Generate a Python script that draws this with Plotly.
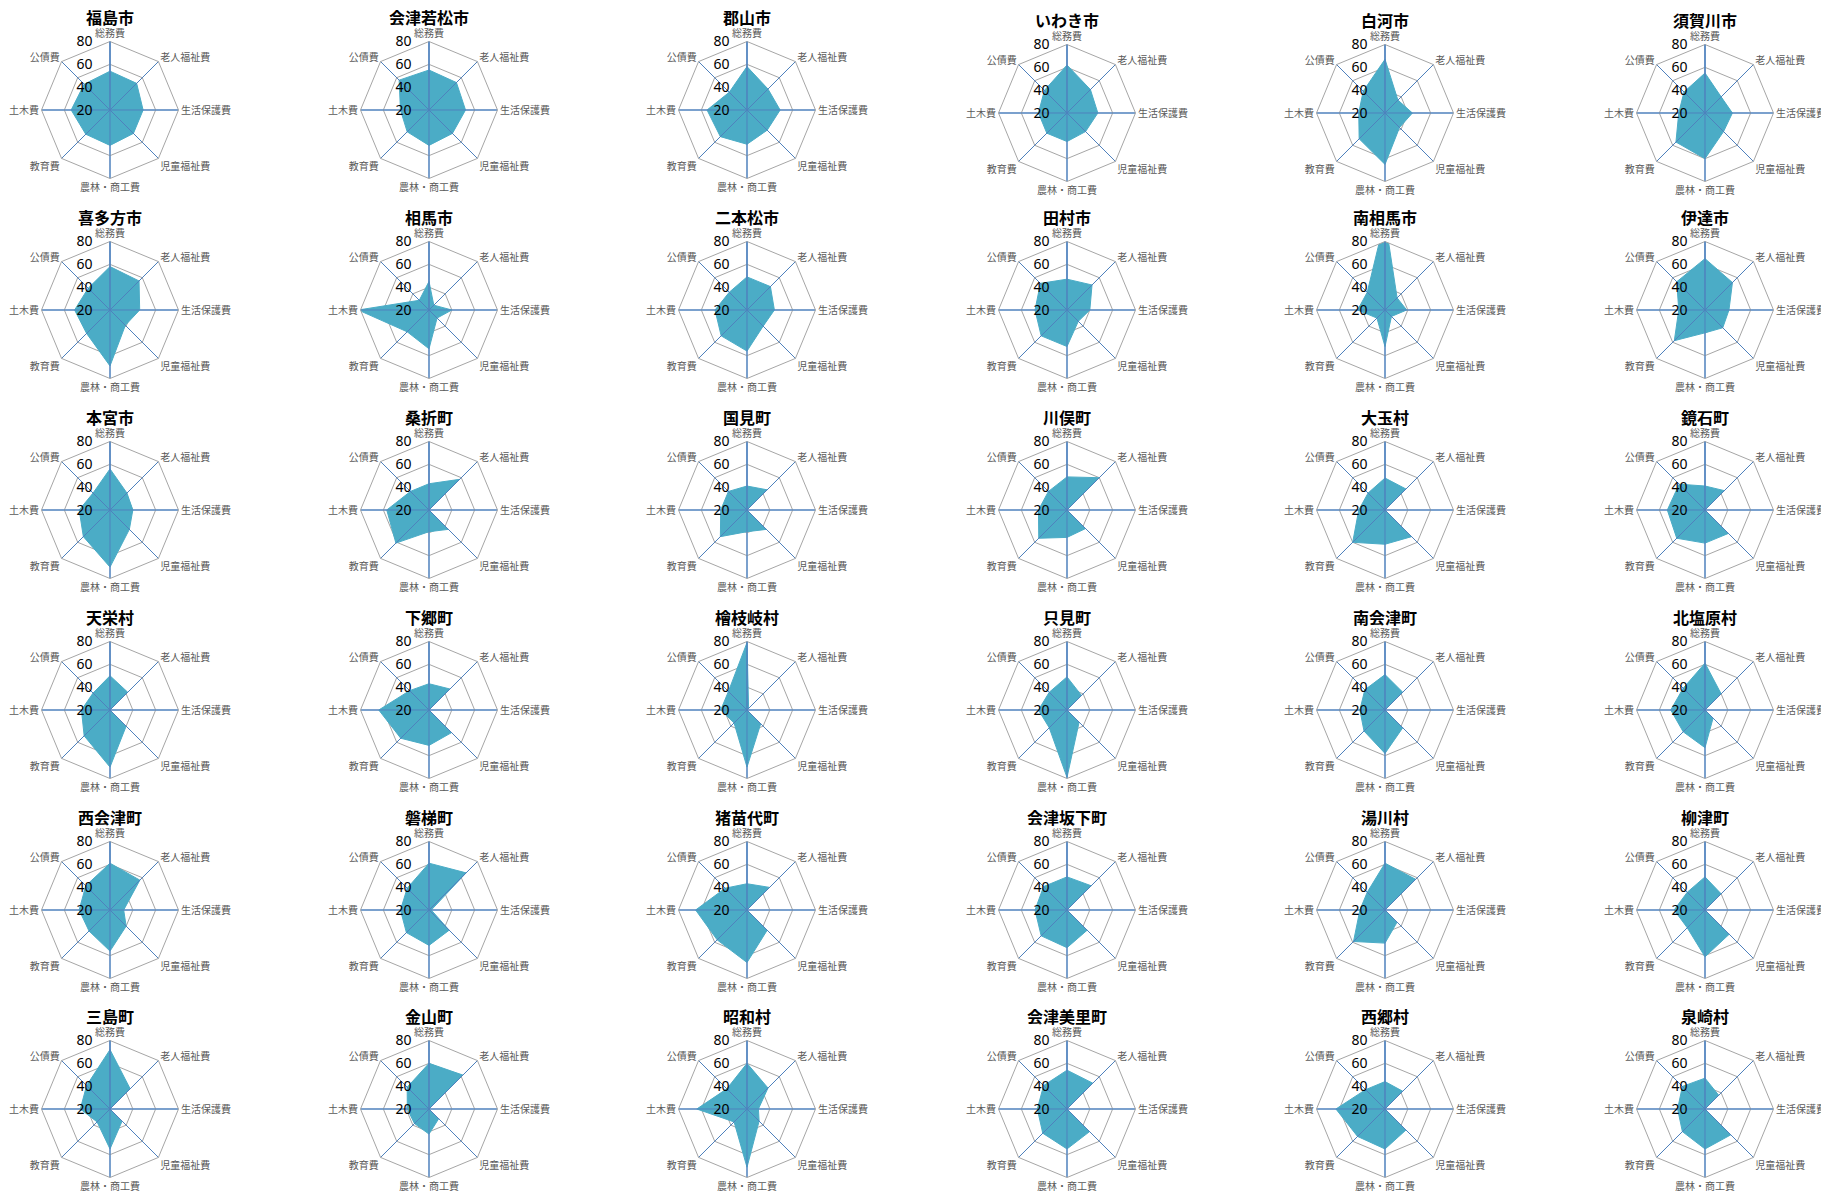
import plotly.graph_objects as go

# ---------------- data ----------------
categories = ["総務費", "老人福祉費", "生活保護費", "児童福祉費", "農林・商工費", "教育費", "土木費", "公債費"]

municipalities = [
    "福島市", "会津若松市", "郡山市", "いわき市", "白河市", "須賀川市",
    "喜多方市", "相馬市", "二本松市", "田村市", "南相馬市", "伊達市",
    "本宮市", "桑折町", "国見町", "川俣町", "大玉村", "鏡石町",
    "天栄村", "下郷町", "檜枝岐村", "只見町", "南会津町", "北塩原村",
    "西会津町", "磐梯町", "猪苗代町", "会津坂下町", "湯川村", "柳津町",
    "三島町", "金山町", "昭和村", "会津美里町", "西郷村", "泉崎村",
]

somu     = [54, 55, 58, 62, 67, 55,  58, 45, 49, 47, 100, 65,  56, 43, 41, 49, 48, 41,  50, 43, 79, 49, 51, 61,  61, 61, 43, 49, 61, 49,  72, 60, 60, 54, 44, 47]
rojin    = [53, 54, 46, 49, 36, 40,  56, 26, 49, 51, 35, 54,  41, 58, 45, 60, 46, 44,  42, 46, 22, 38, 42, 40,  57, 66, 48, 50, 58, 40,  45, 62, 46, 52, 42, 37]
seikatsu = [49, 52, 49, 47, 44, 44,  46, 40, 44, 40, 39, 41,  40, 20, 20, 20, 20, 20,  20, 20, 20, 20, 20, 20,  32, 22, 20, 20, 20, 20,  20, 20, 30, 20, 20, 20]
jido     = [49, 49, 45, 43, 38, 43,  39, 30, 40, 34, 28, 42,  44, 44, 44, 43, 53, 49,  40, 48, 37, 35, 42, 30,  40, 45, 45, 45, 35, 50,  35, 32, 35, 48, 46, 52]
norin    = [51, 51, 50, 45, 65, 60,  69, 54, 56, 52, 52, 40,  70, 39, 39, 44, 50, 49,  70, 51, 70, 79, 58, 53,  56, 51, 66, 53, 49, 61,  55, 42, 71, 55, 55, 55]
kyoiku   = [50, 47, 53, 45, 52, 56,  49, 47, 52, 52, 30, 58,  53, 61, 53, 55, 60, 55,  52, 55, 36, 42, 46, 47,  46, 48, 57, 52, 59, 42,  36, 38, 36, 50, 54, 48]
doboku   = [54, 45, 55, 45, 43, 43,  51, 82, 48, 48, 44, 43,  47, 57, 43, 45, 43, 53,  45, 64, 43, 45, 42, 50,  47, 45, 65, 48, 42, 47,  46, 39, 64, 46, 63, 44]
kosai    = [52, 57, 42, 48, 47, 46,  47, 32, 42, 53, 42, 55,  41, 43, 43, 43, 41, 52,  41, 44, 43, 42, 45, 47,  50, 47, 47, 49, 42, 42,  49, 47, 45, 49, 44, 48]

radial_ticks = [20, 40, 60, 80]

# ---------------- style / layout ----------------
PAGE_OFFSET = 8          # default body margin of the html page
W, H = 1829 - PAGE_OFFSET, 1195 - PAGE_OFFSET
col_x = [110, 429, 747, 1067, 1385, 1705]     # screen centres
row_y = [110, 310, 510, 710, 910, 1109]
y_shift = {3: 3, 4: 3, 5: 3}                  # small per-chart vertical offsets
R = 68.5
FILL = "#4BACC6"
SPOKE = "#4F81BD"
GRID = "#A6A6A6"
FONT = "Noto Sans CJK JP"

series = [somu, rojin, seikatsu, jido, norin, kyoiku, doboku, kosai]

fig = go.Figure()
annotations = []
layout_polars = {}

spoke_r, spoke_t = [], []
for cat in categories:
    spoke_r += [radial_ticks[0], radial_ticks[-1], None]
    spoke_t += [cat, cat, None]

for i, name in enumerate(municipalities):
    row, col = divmod(i, 6)
    key = "polar" if i == 0 else f"polar{i + 1}"
    vals = [s[i] for s in series]
    fig.add_trace(go.Scatterpolar(
        r=vals + [vals[0]], theta=categories + [categories[0]],
        mode="lines", fill="toself", fillcolor=FILL,
        line=dict(color=FILL, width=1), subplot=key, showlegend=False,
        name=name,
    ))
    fig.add_trace(go.Scatterpolar(
        r=spoke_r, theta=spoke_t, mode="lines",
        line=dict(color=SPOKE, width=1), subplot=key, showlegend=False,
        hoverinfo="skip",
    ))
    cx = col_x[col] - PAGE_OFFSET
    cy = row_y[row] + y_shift.get(i, 0) - PAGE_OFFSET
    layout_polars[key] = dict(
        domain=dict(x=[(cx - R) / W, (cx + R) / W], y=[1 - (cy + R) / H, 1 - (cy - R) / H]),
        gridshape="linear",
        bgcolor="white",
        radialaxis=dict(
            range=[radial_ticks[0], radial_ticks[-1]], tickvals=radial_ticks,
            angle=90, side="counterclockwise", tickangle=90,
            showline=True, linecolor=SPOKE, linewidth=1,
            gridcolor=GRID, gridwidth=1,
            tickfont=dict(size=14, color="black", family="Liberation Sans Narrow, Noto Sans"),
            ticks="outside", ticklen=12, tickcolor="rgba(0,0,0,0)",
        ),
        angularaxis=dict(
            rotation=90, direction="clockwise",
            categoryorder="array", categoryarray=categories,
            gridcolor=SPOKE, linecolor=GRID, linewidth=1,
            tickfont=dict(size=10, color="#595959", family=FONT),
            ticks="", ticklen=0,
        ),
    )
    annotations.append(dict(
        text="<b>" + name + "</b>", x=cx / W, y=1 - (cy - 93) / H, xref="paper", yref="paper",
        showarrow=False, xanchor="center", yanchor="middle",
        font=dict(size=16, color="black", family=FONT),
    ))

fig.update_layout(
    width=W, height=H,
    margin=dict(l=0, r=0, t=0, b=0),
    paper_bgcolor="white", plot_bgcolor="white",
    annotations=annotations,
    font=dict(family=FONT),
    **layout_polars,
)

fig.write_html("out.html")
